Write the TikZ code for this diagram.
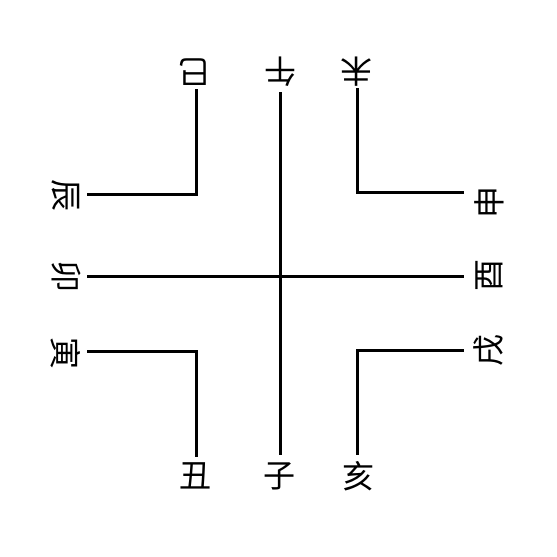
\documentclass[tikz,border=0pt]{standalone}
\usepackage{fontspec}
\newfontfamily\cjk{Noto Sans CJK SC}
\usetikzlibrary{calc}
\tikzset{
 zhi/.style={font=\cjk\fontsize{32}{32}\selectfont, inner sep=0pt},
 branch/.style={black, line width=3pt, line cap=rect}
}
\begin{document}
\begin{tikzpicture}[x=1pt,y=-1pt]
\useasboundingbox (0,0) rectangle (557,557);
\coordinate (O) at (280,276);
\foreach \n/\x/\c in {si/194/巳, wu/280/午, wei/356/未}
 \node[zhi, rotate=180] (\n) at (\x,72) {\c};
\foreach \n/\x/\c in {chou/195/丑, zi/279/子, hai/358/亥}
 \node[zhi] (\n) at (\x,476) {\c};
\foreach \n/\y/\c in {chen/195/辰, mao/276/卯, yin/353/寅}
 \node[zhi, rotate=-90] (\n) at (66,\y) {\c};
\foreach \n/\y/\c in {shen/202/申, you/275/酉, xu/350/戌}
 \node[zhi, rotate=90] (\n) at (489,\y) {\c};
\coordinate (si-end) at (196,90);
\coordinate (wu-end) at (280,93);
\coordinate (wei-end) at (357,89);
\coordinate (chou-end) at (196,455);
\coordinate (zi-end) at (280,453);
\coordinate (hai-end) at (357,453);
\coordinate (chen-end) at (88,194);
\coordinate (mao-end) at (88,276);
\coordinate (yin-end) at (88,351);
\coordinate (shen-end) at (462,192);
\coordinate (you-end) at (462,276);
\coordinate (xu-end) at (462,350);
\draw[branch] (wu-end) -- (zi-end);
\draw[branch] (mao-end) -- (you-end);
\draw[branch] (si-end) |- (chen-end);
\draw[branch] (wei-end) |- (shen-end);
\draw[branch] (chou-end) |- (yin-end);
\draw[branch] (hai-end) |- (xu-end);
\end{tikzpicture}
\end{document}
